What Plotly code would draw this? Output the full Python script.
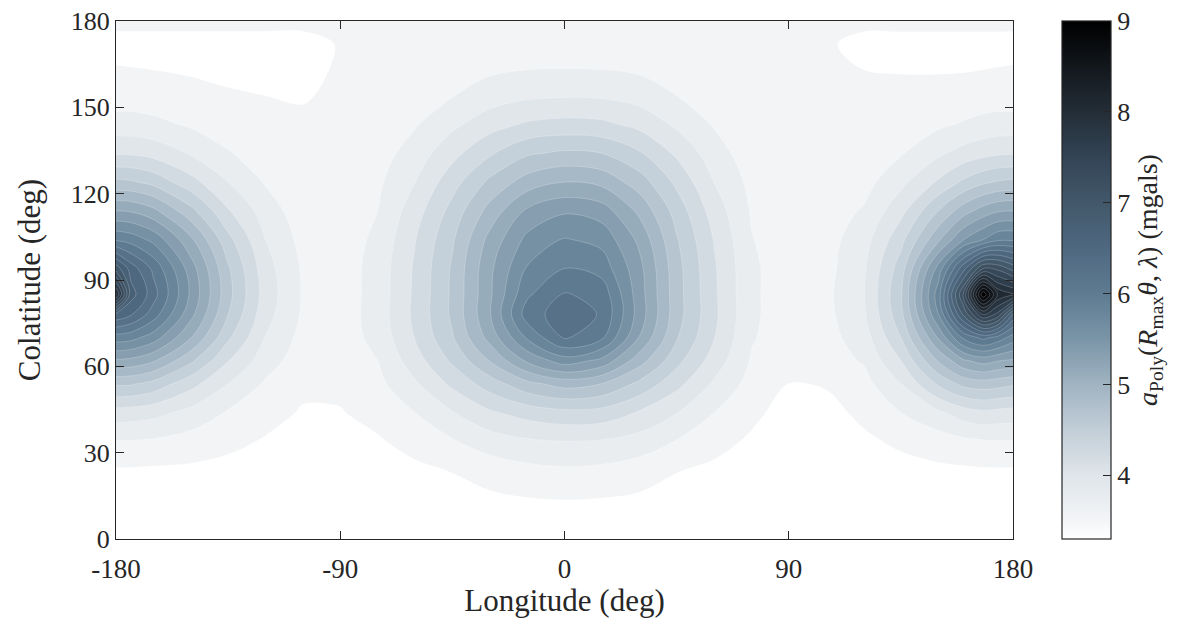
import plotly.graph_objects as go

# Longitude (deg) of grid columns
lon = [-180, -174, -165, -150, -135, -120, -105, -90, -75, -60, -45, -30, -15, 0,
       15, 30, 45, 60, 75, 90, 105, 120, 135, 150, 160, 168, 174, 180]

# Colatitude (deg) of grid rows
colat = [0, 12, 24, 34, 44, 54, 62, 70, 78, 85, 94, 104, 114, 124, 134,
         144, 154, 164, 172, 180]

# a_Poly (mgals), one row per colatitude
row_000 = [3.33, 3.33, 3.33, 3.33, 3.32, 3.32, 3.31, 3.31, 3.32, 3.33, 3.35, 3.37, 3.38, 3.38, 3.38, 3.37, 3.35, 3.33, 3.32, 3.31, 3.31, 3.32, 3.32, 3.33, 3.33, 3.34, 3.34, 3.33]
row_012 = [3.42, 3.42, 3.41, 3.39, 3.37, 3.34, 3.34, 3.34, 3.36, 3.38, 3.42, 3.45, 3.48, 3.49, 3.48, 3.46, 3.42, 3.38, 3.35, 3.34, 3.34, 3.34, 3.36, 3.39, 3.41, 3.41, 3.42, 3.42]
row_024 = [3.50, 3.50, 3.49, 3.48, 3.45, 3.41, 3.40, 3.40, 3.43, 3.48, 3.53, 3.62, 3.68, 3.71, 3.69, 3.63, 3.53, 3.48, 3.41, 3.40, 3.40, 3.40, 3.45, 3.48, 3.49, 3.50, 3.50, 3.50]
row_034 = [3.73, 3.73, 3.71, 3.65, 3.58, 3.50, 3.45, 3.45, 3.50, 3.59, 3.72, 3.85, 3.93, 3.96, 3.94, 3.87, 3.73, 3.59, 3.49, 3.42, 3.43, 3.48, 3.56, 3.63, 3.69, 3.72, 3.73, 3.73]
row_044 = [4.09, 4.07, 4.03, 3.89, 3.72, 3.60, 3.50, 3.51, 3.58, 3.74, 3.95, 4.15, 4.27, 4.34, 4.32, 4.16, 3.97, 3.74, 3.57, 3.44, 3.45, 3.57, 3.74, 3.92, 4.07, 4.14, 4.11, 4.09]
row_054 = [4.66, 4.65, 4.55, 4.26, 3.96, 3.71, 3.57, 3.56, 3.68, 3.93, 4.23, 4.51, 4.78, 4.93, 4.84, 4.57, 4.25, 3.93, 3.66, 3.52, 3.54, 3.66, 3.96, 4.44, 4.69, 4.74, 4.71, 4.66]
row_062 = [5.25, 5.22, 5.09, 4.67, 4.19, 3.84, 3.62, 3.61, 3.74, 4.08, 4.44, 4.85, 5.32, 5.62, 5.44, 4.94, 4.47, 4.08, 3.72, 3.59, 3.64, 3.76, 4.18, 4.86, 5.24, 5.37, 5.29, 5.25]
row_070 = [5.84, 5.80, 5.61, 5.07, 4.44, 3.95, 3.67, 3.62, 3.81, 4.19, 4.60, 5.14, 5.75, 6.19, 5.98, 5.27, 4.64, 4.19, 3.76, 3.62, 3.66, 3.85, 4.40, 5.30, 5.98, 6.23, 6.08, 5.84]
row_078 = [6.55, 6.40, 6.05, 5.35, 4.62, 4.04, 3.71, 3.62, 3.84, 4.23, 4.66, 5.26, 6.05, 6.28, 6.14, 5.40, 4.71, 4.23, 3.78, 3.62, 3.68, 3.92, 4.55, 5.71, 6.84, 7.70, 7.40, 6.55]
row_085 = [7.95, 6.70, 6.25, 5.46, 4.69, 4.08, 3.72, 3.62, 3.83, 4.22, 4.66, 5.24, 5.90, 6.18, 6.08, 5.38, 4.71, 4.22, 3.78, 3.62, 3.69, 3.94, 4.59, 5.83, 7.26, 8.98, 8.10, 7.95]
row_094 = [6.95, 6.50, 6.11, 5.39, 4.65, 4.05, 3.71, 3.62, 3.83, 4.21, 4.65, 5.23, 5.74, 5.94, 5.85, 5.35, 4.70, 4.21, 3.78, 3.62, 3.67, 3.92, 4.51, 5.58, 6.51, 7.25, 7.20, 6.95]
row_104 = [5.91, 5.85, 5.66, 5.11, 4.47, 3.96, 3.67, 3.62, 3.79, 4.17, 4.59, 5.13, 5.56, 5.74, 5.65, 5.23, 4.64, 4.17, 3.75, 3.62, 3.66, 3.86, 4.33, 5.02, 5.49, 5.72, 5.90, 5.91]
row_114 = [5.28, 5.26, 5.12, 4.69, 4.20, 3.85, 3.62, 3.62, 3.74, 4.08, 4.48, 4.92, 5.32, 5.47, 5.39, 5.01, 4.53, 4.08, 3.72, 3.62, 3.64, 3.76, 4.11, 4.62, 4.96, 5.16, 5.26, 5.28]
row_124 = [4.67, 4.65, 4.55, 4.26, 3.96, 3.72, 3.62, 3.62, 3.70, 3.96, 4.31, 4.67, 4.94, 5.06, 5.00, 4.73, 4.35, 3.96, 3.68, 3.62, 3.62, 3.66, 3.90, 4.21, 4.44, 4.58, 4.64, 4.67]
row_134 = [4.16, 4.15, 4.10, 3.94, 3.76, 3.62, 3.62, 3.62, 3.64, 3.84, 4.11, 4.37, 4.59, 4.66, 4.62, 4.43, 4.14, 3.84, 3.62, 3.62, 3.62, 3.62, 3.72, 3.92, 4.04, 4.11, 4.15, 4.16]
row_144 = [3.83, 3.83, 3.80, 3.71, 3.61, 3.60, 3.59, 3.60, 3.60, 3.72, 3.91, 4.09, 4.21, 4.25, 4.23, 4.12, 3.92, 3.72, 3.60, 3.60, 3.60, 3.60, 3.60, 3.70, 3.76, 3.81, 3.83, 3.83]
row_154 = [3.63, 3.63, 3.61, 3.58, 3.54, 3.52, 3.49, 3.59, 3.60, 3.63, 3.73, 3.85, 3.92, 3.94, 3.93, 3.87, 3.74, 3.63, 3.60, 3.60, 3.60, 3.59, 3.58, 3.58, 3.60, 3.62, 3.63, 3.63]
row_164 = [3.53, 3.52, 3.51, 3.49, 3.47, 3.44, 3.44, 3.55, 3.60, 3.60, 3.62, 3.69, 3.72, 3.73, 3.72, 3.69, 3.63, 3.60, 3.60, 3.60, 3.59, 3.51, 3.50, 3.50, 3.50, 3.51, 3.52, 3.53]
row_172 = [3.42, 3.42, 3.42, 3.42, 3.42, 3.42, 3.42, 3.54, 3.61, 3.61, 3.61, 3.61, 3.61, 3.62, 3.62, 3.61, 3.61, 3.61, 3.61, 3.61, 3.56, 3.43, 3.43, 3.43, 3.43, 3.43, 3.43, 3.42]
row_180 = [3.60, 3.60, 3.60, 3.60, 3.60, 3.60, 3.60, 3.60, 3.60, 3.60, 3.60, 3.60, 3.60, 3.60, 3.60, 3.60, 3.60, 3.60, 3.60, 3.60, 3.60, 3.60, 3.60, 3.60, 3.60, 3.60, 3.60, 3.60]

accel = [row_000, row_012, row_024, row_034, row_044, row_054, row_062, row_070,
         row_078, row_085, row_094, row_104, row_114, row_124, row_134, row_144,
         row_154, row_164, row_172, row_180]

x_tick_vals = [-180, -90, 0, 90, 180]
x_tick_text = ["-180", "-90", "0", "90", "180"]
y_tick_vals = [0, 30, 60, 90, 120, 150, 180]
cbar_tick_vals = [4, 5, 6, 7, 8, 9]

z_min, z_max = 3.3, 9.0
level_start, level_step, level_end = 3.52, 0.22, 8.9

colorscale = [
    [0.0, "#ffffff"], [0.0351, "#f3f5f7"], [0.1228, "#dfe5ea"],
    [0.2105, "#c2ced8"], [0.2982, "#a0b3c1"], [0.386, "#7b95a8"],
    [0.4737, "#5e7b91"], [0.5614, "#4e6880"], [0.6491, "#42586a"],
    [0.7368, "#334455"], [0.8246, "#232d37"], [0.9123, "#12171c"],
    [1.0, "#000000"],
]

ink = "#262626"
serif = "Liberation Serif"
tick_size, title_size, cbar_title_size = 26, 31, 28

# the page body adds an 8 px offset, so the figure is 16 px smaller than the window
fig_w, fig_h = 1183 - 16, 628 - 16
m_left, m_top = 116 - 8, 21 - 8
plot_w, plot_h = 897, 518
m_right = fig_w - m_left - plot_w
m_bottom = fig_h - m_top - plot_h

fig = go.Figure()
fig.add_trace(go.Contour(
    x=lon, y=colat, z=accel,
    zmin=z_min, zmax=z_max,
    colorscale=colorscale,
    contours=dict(start=level_start, end=level_end, size=level_step, coloring="fill"),
    line=dict(color="rgba(255,255,255,0.35)", width=0.6, smoothing=1.0),
    showscale=False,
    hoverinfo="skip",
))

# continuous colour bar (same colour map and limits as the filled contours)
fig.add_trace(go.Scatter(
    x=[None], y=[None], mode="markers", showlegend=False, hoverinfo="skip",
    marker=dict(
        color=[z_min], cmin=z_min, cmax=z_max, colorscale=colorscale, showscale=True,
        colorbar=dict(
            x=(1062 - 116) / plot_w, xanchor="left", xpad=0,
            y=0.5, yanchor="middle", ypad=0,
            len=1, lenmode="fraction", thickness=49, thicknessmode="pixels",
            outlinewidth=1.2, outlinecolor=ink,
            tickvals=cbar_tick_vals, ticks="inside", ticklen=8, tickcolor=ink,
            tickfont=dict(family=serif, size=tick_size, color=ink),
            ticklabeloverflow="allow",
            title=dict(
                text="<i>a</i><sub>Poly</sub>(<i>R</i><sub>max</sub><i>θ</i>, <i>λ</i>) (mgals)",
                side="right", font=dict(family=serif, size=cbar_title_size, color=ink)),
        ),
    ),
))

axis_common = dict(
    showgrid=False, zeroline=False, showline=True, mirror="allticks",
    linecolor=ink, linewidth=1.2, ticks="inside", ticklen=8, tickcolor=ink,
    ticklabeloverflow="allow",
)

fig.update_layout(
    width=fig_w, height=fig_h,
    margin=dict(l=m_left, r=m_right, t=m_top, b=m_bottom, autoexpand=False),
    paper_bgcolor="white", plot_bgcolor="white",
    font=dict(family=serif, color=ink),
    xaxis=dict(range=[-180, 180], tickvals=x_tick_vals, ticktext=x_tick_text,
               ticklabelstandoff=5, tickfont=dict(family=serif, size=tick_size + 1, color=ink),
               title=dict(text="Longitude (deg)", font=dict(family=serif, size=title_size, color=ink), standoff=6),
               **axis_common),
    yaxis=dict(range=[0, 180], tickvals=y_tick_vals,
               tickfont=dict(family=serif, size=tick_size, color=ink),
               title=dict(text="Colatitude (deg)", font=dict(family=serif, size=title_size, color=ink), standoff=20),
               **axis_common),
)

fig.write_html("out.html")
